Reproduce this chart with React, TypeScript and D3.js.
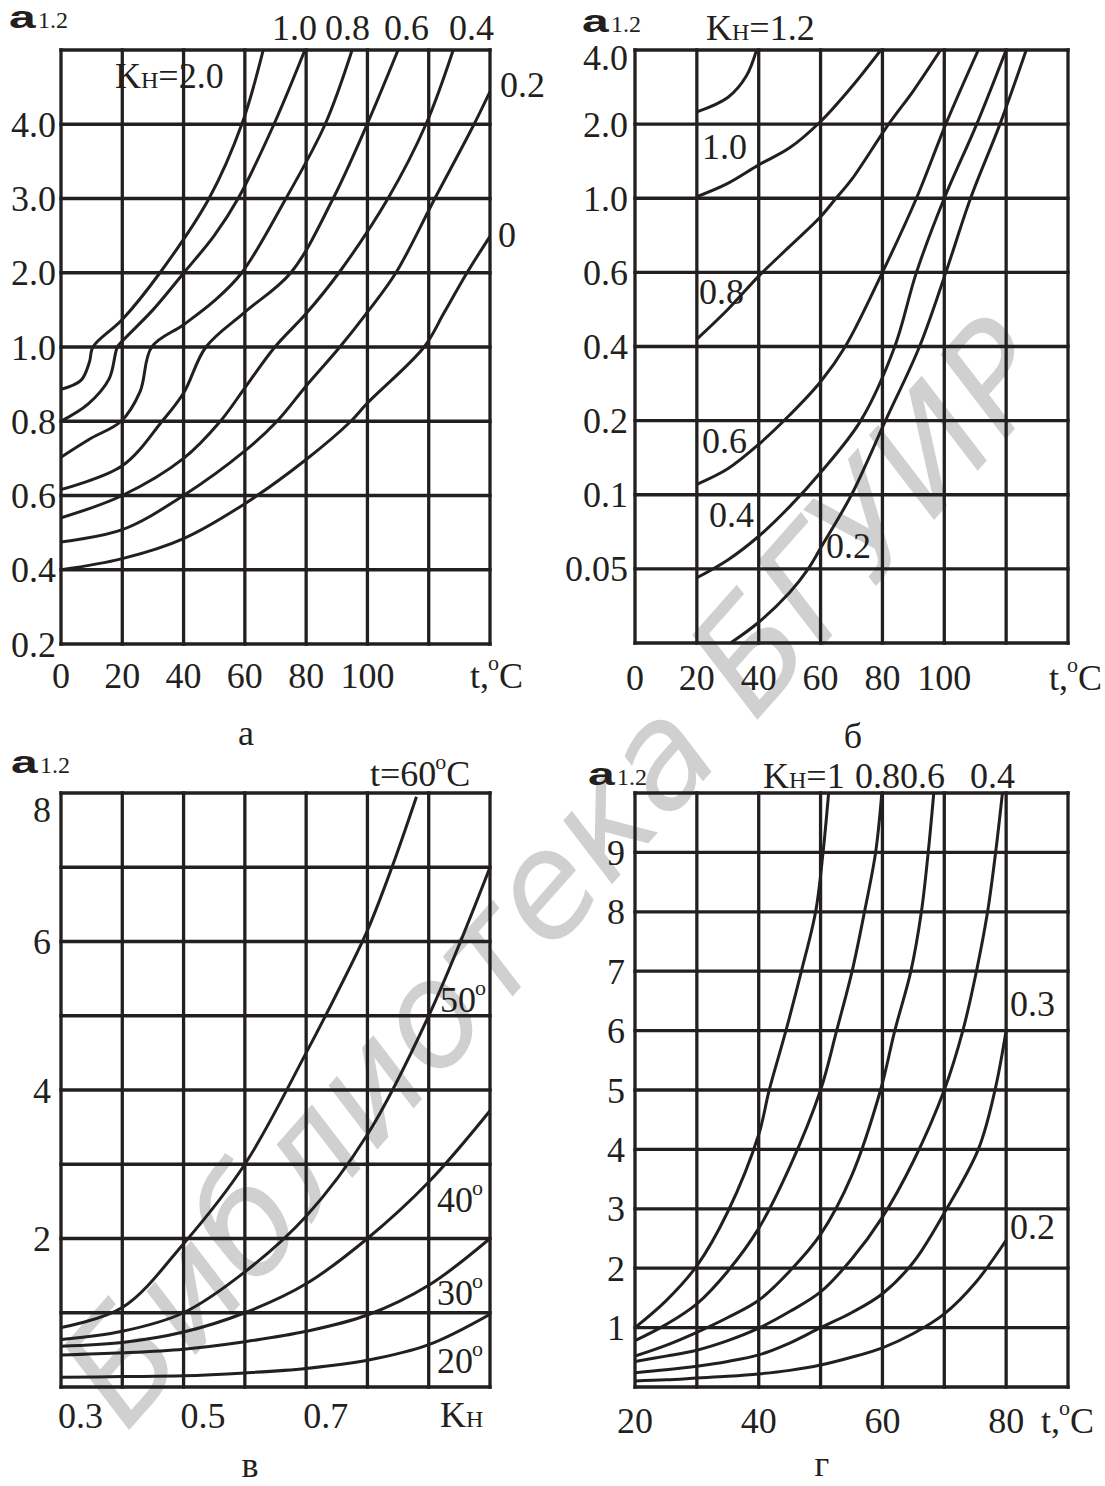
import React from 'react';
import * as d3 from 'd3';

type Pt = [number, number];
interface Frame { l: number; r: number; t: number; b: number }

const INK = '#231f20';
const SERIF = '"Liberation Serif", "Times New Roman", serif';
const SANS = '"Liberation Sans", Arial, sans-serif';
const FS = 36;
const GRID_W = 3.3;
const CURVE_W = 3;

// ---------------- Panel а : α1,2 vs t, several K_H ----------------
const aTempGrid = [0, 20, 40, 60, 80, 100, 120, 140];
const aTempLabels = [0, 20, 40, 60, 80, 100];
const aAlphaGrid = [0.2, 0.4, 0.6, 0.8, 1.0, 2.0, 3.0, 4.0, 5.0];
const aAlphaLabels = ['0.2', '0.4', '0.6', '0.8', '1.0', '2.0', '3.0', '4.0'];
const aKh20: Pt[] = [[0, 0.886], [6.5, 0.91], [9.3, 0.96], [10.4, 1.0], [20, 1.37], [32.3, 2.0], [48.3, 3.0], [59, 4.0], [66, 5.0]];
const aKh10: Pt[] = [[0, 0.8], [8.8, 0.846], [15.7, 0.914], [18.4, 1.0], [20, 1.08], [30, 1.5], [40.1, 2.0], [50, 2.5], [57.8, 3.0], [69.5, 4.0], [79.6, 5.0]];
const aKh08: Pt[] = [[0, 0.703], [9.8, 0.754], [19.6, 0.8], [25.8, 0.88], [29.6, 1.0], [40, 1.3], [50, 1.62], [59, 2.0], [73.4, 3.0], [86.2, 4.0], [95, 5.0]];
const aKh06: Pt[] = [[0, 0.616], [20, 0.68], [33, 0.8], [40, 0.876], [47.3, 1.0], [60, 1.47], [75, 2.0], [88.8, 3.0], [99.9, 4.0], [110, 5.0]];
const aKh04: Pt[] = [[0, 0.54], [20, 0.6], [40, 0.7], [52, 0.8], [60, 0.89], [69.8, 1.0], [80, 1.45], [90.7, 2.0], [106.7, 3.0], [119.1, 4.0], [128, 5.0]];
const aKh02: Pt[] = [[0, 0.475], [20, 0.508], [40, 0.6], [60, 0.72], [70.5, 0.8], [80, 0.895], [91, 1.0], [100, 1.47], [109.3, 2.0], [122, 3.0], [134.8, 4.0], [140, 4.44]];
const aKh00: Pt[] = [[0, 0.4], [20, 0.43], [40, 0.484], [60, 0.578], [80, 0.697], [94.6, 0.8], [100, 0.849], [118.5, 1.0], [125, 1.46], [132.5, 2.0], [140, 2.49]];

// ---------------- Panel б : α1,2 vs t, K_H = 1.2 … 0.2 ----------------
const bTempGrid = [0, 20, 40, 60, 80, 100, 120, 140];
const bTempLabels = [0, 20, 40, 60, 80, 100];
const bAlphaGrid = [0.025, 0.05, 0.1, 0.2, 0.4, 0.6, 1.0, 2.0, 4.0];
const bAlphaLabels = ['', '0.05', '0.1', '0.2', '0.4', '0.6', '1.0', '2.0', '4.0'];
const bKh12: Pt[] = [[20, 2.33], [30, 2.72], [36, 3.3], [39.3, 4.0]];
const bKh10: Pt[] = [[20, 1.02], [30, 1.2], [40, 1.45], [50, 1.68], [60, 2.07], [70, 3.0], [79.5, 4.0]];
const bKh08: Pt[] = [[20, 0.42], [30, 0.5], [40, 0.59], [50, 0.74], [60, 0.9], [65, 1.0], [70, 1.25], [82, 2.0], [90, 2.9], [98.8, 4.0]];
const bKh06: Pt[] = [[20, 0.114], [30, 0.135], [40, 0.168], [50, 0.215], [60, 0.305], [68, 0.4], [80, 0.6], [91, 1.0], [100.5, 2.0], [111, 4.0]];
const bKh04: Pt[] = [[20, 0.047], [30, 0.056], [40, 0.072], [50, 0.092], [60, 0.13], [73, 0.2], [84, 0.4], [91, 0.6], [100, 1.0], [110.5, 2.0], [120, 4.0]];
const bKh02: Pt[] = [[30.9, 0.025], [40, 0.032], [50, 0.042], [56, 0.05], [60, 0.064], [70, 0.1], [81, 0.2], [92, 0.4], [100.5, 0.6], [108.5, 1.0], [118, 2.0], [126.5, 4.0]];

// ---------------- Panel в : α1,2 vs K_H, several t ----------------
const vKhGrid = [0.3, 0.4, 0.5, 0.6, 0.7, 0.8, 0.9, 1.0];
const vKhLabels = ['0.3', '0.5', '0.7'];
const vKhLabelValues = [0.3, 0.5, 0.7];
const vAlphaGrid = [0, 1, 2, 3, 4, 5, 6, 7, 8];
const vAlphaLabels = [2, 4, 6, 8];
const vT20: Pt[] = [[0.3, 0.13], [0.4, 0.14], [0.5, 0.15], [0.6, 0.19], [0.7, 0.25], [0.8, 0.36], [0.9, 0.57], [1.0, 0.98]];
const vT30: Pt[] = [[0.3, 0.43], [0.4, 0.46], [0.5, 0.51], [0.6, 0.61], [0.7, 0.75], [0.8, 0.97], [0.9, 1.37], [1.0, 2.0]];
const vT40: Pt[] = [[0.3, 0.55], [0.4, 0.6], [0.5, 0.74], [0.6, 1.0], [0.7, 1.39], [0.8, 2.0], [0.9, 2.76], [1.0, 3.72]];
const vT50: Pt[] = [[0.3, 0.64], [0.4, 0.75], [0.5, 1.0], [0.6, 1.55], [0.7, 2.3], [0.8, 3.4], [0.9, 5.0], [1.0, 7.0]];
const vT60: Pt[] = [[0.3, 0.8], [0.4, 1.07], [0.5, 1.93], [0.6, 3.0], [0.7, 4.5], [0.75, 5.3], [0.8, 6.15], [0.84, 7.0], [0.88, 7.95]];

// ---------------- Panel г : α1,2 vs t, K_H = 1 … 0.2 ----------------
const gTempGrid = [20, 30, 40, 50, 60, 70, 80, 90];
const gTempLabels = [20, 40, 60, 80];
const gAlphaGrid = [0, 1, 2, 3, 4, 5, 6, 7, 8, 9, 10];
const gAlphaLabels = [1, 2, 3, 4, 5, 6, 7, 8, 9];
const gKh10: Pt[] = [[20, 1.0], [25, 1.45], [30, 2.04], [35, 2.95], [40, 4.25], [41.7, 5.0], [44.4, 6.0], [46.9, 7.0], [49.2, 8.0], [50.4, 9.0], [51.3, 10]];
const gKh08: Pt[] = [[20, 0.78], [25, 1.05], [30, 1.4], [35, 1.95], [40, 2.67], [45, 3.7], [50, 5.0], [52.6, 6.0], [55.1, 7.0], [57.1, 8.0], [58.9, 9.0], [59.9, 10]];
const gKh06: Pt[] = [[20, 0.52], [25, 0.7], [30, 0.92], [35, 1.17], [40, 1.46], [45, 1.95], [50, 2.57], [55, 3.55], [59.7, 5.0], [62, 6.0], [64.6, 7.0], [66.3, 8.0], [67.4, 9.0], [68.3, 10]];
const gKh04: Pt[] = [[20, 0.43], [25, 0.52], [30, 0.62], [35, 0.78], [40, 0.99], [45, 1.27], [50, 1.6], [55, 2.15], [60, 2.86], [65, 3.8], [70, 5.0], [73, 6.0], [75.2, 7.0], [77, 8.0], [78.3, 9.0], [79.4, 10]];
const gKh03: Pt[] = [[20, 0.24], [25, 0.29], [30, 0.35], [35, 0.43], [40, 0.54], [45, 0.74], [50, 1.0], [55, 1.25], [60, 1.57], [65, 2.1], [70, 2.93], [75.5, 4.0], [78.2, 5.0], [80, 6.0]];
const gKh02: Pt[] = [[20, 0.1], [25, 0.12], [30, 0.15], [35, 0.18], [40, 0.22], [45, 0.28], [50, 0.37], [55, 0.5], [60, 0.66], [65, 0.9], [70, 1.23], [75, 1.75], [80, 2.47]];

// ---------------- layout ----------------
const aFrame: Frame = { l: 61, r: 490, t: 50, b: 644 };
const bFrame: Frame = { l: 635, r: 1068, t: 50, b: 643 };
const vFrame: Frame = { l: 61, r: 490, t: 793, b: 1387 };
const gFrame: Frame = { l: 635, r: 1068, t: 793, b: 1387 };

const evenRange = (vals: number[], f: Frame) =>
  vals.map((_, i) => f.b - (i * (f.b - f.t)) / (vals.length - 1));

const ax = d3.scaleLinear().domain([0, 140]).range([aFrame.l, aFrame.r]);
const ay = d3.scaleLinear().domain(aAlphaGrid).range(evenRange(aAlphaGrid, aFrame));
const bx = d3.scaleLinear().domain([0, 140]).range([bFrame.l, bFrame.r]);
const by = d3.scaleLinear().domain(bAlphaGrid).range(evenRange(bAlphaGrid, bFrame));
const vx = d3.scaleLinear().domain([0.3, 1.0]).range([vFrame.l, vFrame.r]);
const vy = d3.scaleLinear().domain([0, 8]).range([vFrame.b, vFrame.t]);
const gx = d3.scaleLinear().domain([20, 90]).range([gFrame.l, gFrame.r]);
const gy = d3.scaleLinear().domain([0, 10]).range([gFrame.b, gFrame.t]);

type Scale = (v: number) => number;

function Panel({ id, frame, x, y, xs, ys, curves }: {
  id: string; frame: Frame; x: Scale; y: Scale; xs: number[]; ys: number[]; curves: Pt[][];
}) {
  const line = d3.line<Pt>().x((d) => x(d[0])).y((d) => y(d[1])).curve(d3.curveCatmullRom.alpha(0.5));
  return (
    <g>
      <defs>
        <clipPath id={id}>
          <rect x={frame.l} y={frame.t} width={frame.r - frame.l} height={frame.b - frame.t} />
        </clipPath>
      </defs>
      <g stroke={INK} strokeWidth={GRID_W} strokeLinecap="square">
        {xs.map((v, i) => (
          <line key={'x' + i} x1={x(v)} x2={x(v)} y1={frame.t} y2={frame.b} />
        ))}
        {ys.map((v, i) => (
          <line key={'y' + i} x1={frame.l} x2={frame.r} y1={y(v)} y2={y(v)} />
        ))}
      </g>
      <g clipPath={`url(#${id})`} fill="none" stroke={INK} strokeWidth={CURVE_W} strokeLinejoin="round">
        {curves.map((c, i) => (
          <path key={i} d={line(c) || ''} />
        ))}
      </g>
    </g>
  );
}

function Header({ x, y }: { x: number; y: number }) {
  return (
    <g fill={INK}>
      <text transform={`translate(${x},${y}) scale(1.5,1)`} fontFamily={SANS} fontWeight="bold" fontSize={32}>a</text>
      <text x={x + 29} y={y} fontFamily={SERIF} fontSize={24}>1.2</text>
    </g>
  );
}

function Kh({ x, y, rest }: { x: number; y: number; rest?: string }) {
  return (
    <text x={x} y={y} fontFamily={SERIF} fontSize={FS} fill={INK}>
      <tspan>K</tspan>
      <tspan fontSize={24}>H</tspan>
      {rest ? <tspan>{rest}</tspan> : null}
    </text>
  );
}

function Deg({ x, y, num, c }: { x: number; y: number; num: string; c?: boolean }) {
  return (
    <text x={x} y={y} fontFamily={SERIF} fontSize={FS} fill={INK}>
      {num}
      <tspan fontSize={22} dy={-17} dx={-1}>o</tspan>
      {c ? <tspan dy={17}>C</tspan> : null}
    </text>
  );
}

function TC({ x, y }: { x: number; y: number }) {
  return (
    <text x={x} y={y} fontFamily={SERIF} fontSize={FS} fill={INK}>
      t,
      <tspan fontSize={22} dx={-1} dy={-18}>o</tspan>
      <tspan dy={18} dx={0}>C</tspan>
    </text>
  );
}

function Txt({ x, y, s, anchor }: { x: number; y: number; s: string; anchor?: string }) {
  return (
    <text x={x} y={y} fontFamily={SERIF} fontSize={FS} fill={INK} textAnchor={anchor || 'start'}>{s}</text>
  );
}

export default function App() {
  const mid = 12.5; // baseline offset to centre digits on a grid line
  return (
    <svg width={1105} height={1486} viewBox="0 0 1105 1486"
      style={{ position: 'absolute', left: 0, top: 0, display: 'block', background: '#fff' }}>
      <rect x={0} y={0} width={1105} height={1486} fill="#fff" />
      {/* watermark */}
      <text transform="translate(556,872) rotate(-48.5)" textAnchor="middle" dominantBaseline="central"
        fontFamily='"DejaVu Sans", sans-serif' fontStyle="oblique" fontSize={144} fill="#d0d0d0">
        Библиотека БГУИР
      </text>

      {/* ---------- Panel а ---------- */}
      <Panel id="clipA" frame={aFrame} x={ax} y={ay} xs={aTempGrid} ys={aAlphaGrid}
        curves={[aKh20, aKh10, aKh08, aKh06, aKh04, aKh02, aKh00]} />
      {aAlphaLabels.map((s, i) => (
        <Txt key={'ay' + i} x={56} y={ay(aAlphaGrid[i]) + mid} s={s} anchor="end" />
      ))}
      {aTempLabels.map((v) => (
        <Txt key={'ax' + v} x={ax(v)} y={688} s={String(v)} anchor="middle" />
      ))}
      <TC x={470} y={688} />
      <Header x={9} y={28} />
      <Txt x={272} y={40} s="1.0" />
      <Txt x={325} y={40} s="0.8" />
      <Txt x={384} y={40} s="0.6" />
      <Txt x={449} y={40} s="0.4" />
      <Txt x={500} y={97} s="0.2" />
      <Txt x={498} y={247} s="0" />
      <Kh x={115} y={88} rest="=2.0" />
      <Txt x={246} y={745} s="а" anchor="middle" />

      {/* ---------- Panel б ---------- */}
      <Panel id="clipB" frame={bFrame} x={bx} y={by} xs={bTempGrid} ys={bAlphaGrid}
        curves={[bKh12, bKh10, bKh08, bKh06, bKh04, bKh02]} />
      {bAlphaLabels.map((s, i) => s ? (
        <Txt key={'by' + i} x={628} y={Math.max(by(bAlphaGrid[i]) + mid, bFrame.t + 20)} s={s} anchor="end" />
      ) : null)}
      {bTempLabels.map((v) => (
        <Txt key={'bx' + v} x={bx(v)} y={690} s={String(v)} anchor="middle" />
      ))}
      <TC x={1049} y={690} />
      <Header x={582} y={32} />
      <Kh x={706} y={40} rest="=1.2" />
      <Txt x={702} y={159} s="1.0" />
      <Txt x={699} y={304} s="0.8" />
      <Txt x={702} y={453} s="0.6" />
      <Txt x={709} y={527} s="0.4" />
      <Txt x={826} y={558} s="0.2" />
      <Txt x={853} y={748} s="б" anchor="middle" />

      {/* ---------- Panel в ---------- */}
      <Panel id="clipV" frame={vFrame} x={vx} y={vy} xs={vKhGrid} ys={vAlphaGrid}
        curves={[vT20, vT30, vT40, vT50, vT60]} />
      {vAlphaLabels.map((v) => (
        <Txt key={'vy' + v} x={51} y={Math.max(vy(v) + mid, vFrame.t + 29)} s={String(v)} anchor="end" />
      ))}
      {vKhLabels.map((s, i) => (
        <Txt key={'vx' + i} x={vx(vKhLabelValues[i]) - 3} y={1428} s={s} />
      ))}
      <Kh x={440} y={1427} />
      <Header x={11} y={773} />
      <Deg x={370} y={786} num="t=60" c />
      <Deg x={440} y={1012} num="50" />
      <Deg x={437} y={1212} num="40" />
      <Deg x={437} y={1305} num="30" />
      <Deg x={437} y={1373} num="20" />
      <Txt x={250} y={1477} s="в" anchor="middle" />

      {/* ---------- Panel г ---------- */}
      <Panel id="clipG" frame={gFrame} x={gx} y={gy} xs={gTempGrid} ys={gAlphaGrid}
        curves={[gKh10, gKh08, gKh06, gKh04, gKh03, gKh02]} />
      {gAlphaLabels.map((v) => (
        <Txt key={'gy' + v} x={625} y={gy(v) + mid} s={String(v)} anchor="end" />
      ))}
      {gTempLabels.map((v) => (
        <Txt key={'gx' + v} x={gx(v)} y={1433} s={String(v)} anchor="middle" />
      ))}
      <TC x={1041} y={1433} />
      <Header x={588} y={785} />
      <Kh x={763} y={788} rest="=1" />
      <Txt x={855} y={788} s="0.8" />
      <Txt x={900} y={788} s="0.6" />
      <Txt x={970} y={788} s="0.4" />
      <Txt x={1010} y={1016} s="0.3" />
      <Txt x={1010} y={1239} s="0.2" />
      <Txt x={822} y={1476} s="г" anchor="middle" />
    </svg>
  );
}
